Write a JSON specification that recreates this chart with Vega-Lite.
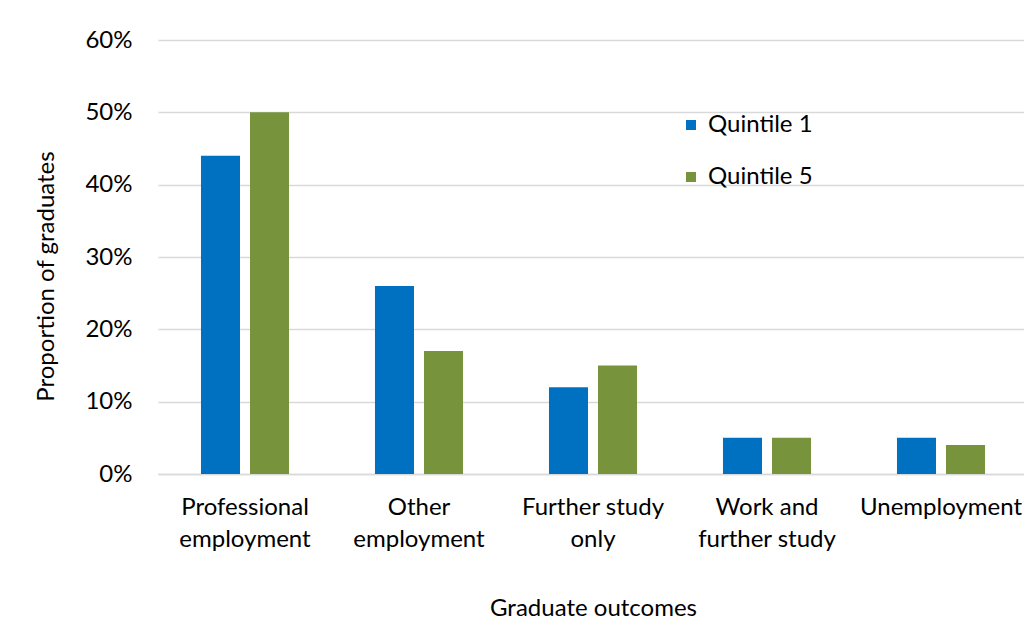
{
  "$schema": "https://vega.github.io/schema/vega-lite/v6.json",
  "width": 870,
  "height": 434,
  "autosize": {"type": "none"},
  "padding": {"left": 158, "top": 40, "right": 0, "bottom": 152},
  "background": "white",
  "config": {
    "font": "Lato",
    "view": {"stroke": null},
    "axis": {"labelFont": "Lato", "titleFont": "Lato", "labelColor": "#000000", "titleColor": "#000000", "titleFontWeight": "normal"}
  },
  "data": {
    "values": [
      {"outcome": "Professional employment", "group": "Quintile 1", "value": 0.44},
      {"outcome": "Professional employment", "group": "Quintile 5", "value": 0.50},
      {"outcome": "Other employment", "group": "Quintile 1", "value": 0.26},
      {"outcome": "Other employment", "group": "Quintile 5", "value": 0.17},
      {"outcome": "Further study only", "group": "Quintile 1", "value": 0.12},
      {"outcome": "Further study only", "group": "Quintile 5", "value": 0.15},
      {"outcome": "Work and further study", "group": "Quintile 1", "value": 0.05},
      {"outcome": "Work and further study", "group": "Quintile 5", "value": 0.05},
      {"outcome": "Unemployment", "group": "Quintile 1", "value": 0.05},
      {"outcome": "Unemployment", "group": "Quintile 5", "value": 0.04}
    ]
  },
  "mark": {"type": "bar"},
  "encoding": {
    "x": {
      "field": "outcome",
      "type": "nominal",
      "sort": null,
      "scale": {"paddingInner": 0.494, "paddingOuter": 0.247},
      "axis": {
        "title": "Graduate outcomes",
        "titleFontSize": 24,
        "titlePadding": 45,
        "labelAngle": 0,
        "labelFontSize": 24,
        "labelPadding": 21,
        "labelLineHeight": 32,
        "labelBaseline": "top",
        "labelOverlap": false,
        "labelBound": false,
        "labelFlush": false,
        "ticks": false,
        "domain": true,
        "domainColor": "#d9d9d9",
        "domainWidth": 1.5,
        "grid": false,
        "labelExpr": "datum.value == 'Professional employment' ? ['Professional', 'employment'] : datum.value == 'Other employment' ? ['Other', 'employment'] : datum.value == 'Further study only' ? ['Further study', 'only'] : datum.value == 'Work and further study' ? ['Work and', 'further study'] : datum.value"
      }
    },
    "xOffset": {"field": "group", "type": "nominal", "scale": {"paddingInner": 0.204, "paddingOuter": 0}},
    "y": {
      "field": "value",
      "type": "quantitative",
      "scale": {"domain": [0, 0.6], "nice": false},
      "axis": {
        "title": "Proportion of graduates",
        "titleFontSize": 24,
        "titleY": 236,
        "titlePadding": 26,
        "format": ".0%",
        "values": [0, 0.1, 0.2, 0.3, 0.4, 0.5, 0.6],
        "labelFontSize": 24,
        "labelPadding": 26,
        "ticks": false,
        "domain": false,
        "grid": true,
        "gridColor": "#d9d9d9",
        "gridWidth": 1.5
      }
    },
    "color": {
      "field": "group",
      "type": "nominal",
      "scale": {"domain": ["Quintile 1", "Quintile 5"], "range": ["#0070C0", "#77933C"]},
      "legend": {
        "title": null,
        "orient": "none",
        "legendX": 521,
        "legendY": 73,
        "padding": 0,
        "symbolType": "square",
        "symbolSize": 100,
        "symbolStrokeWidth": 0,
        "labelFontSize": 24,
        "labelColor": "#000000",
        "labelOffset": 5,
        "rowPadding": 28,
        "labelFont": "Lato"
      }
    }
  }
}
